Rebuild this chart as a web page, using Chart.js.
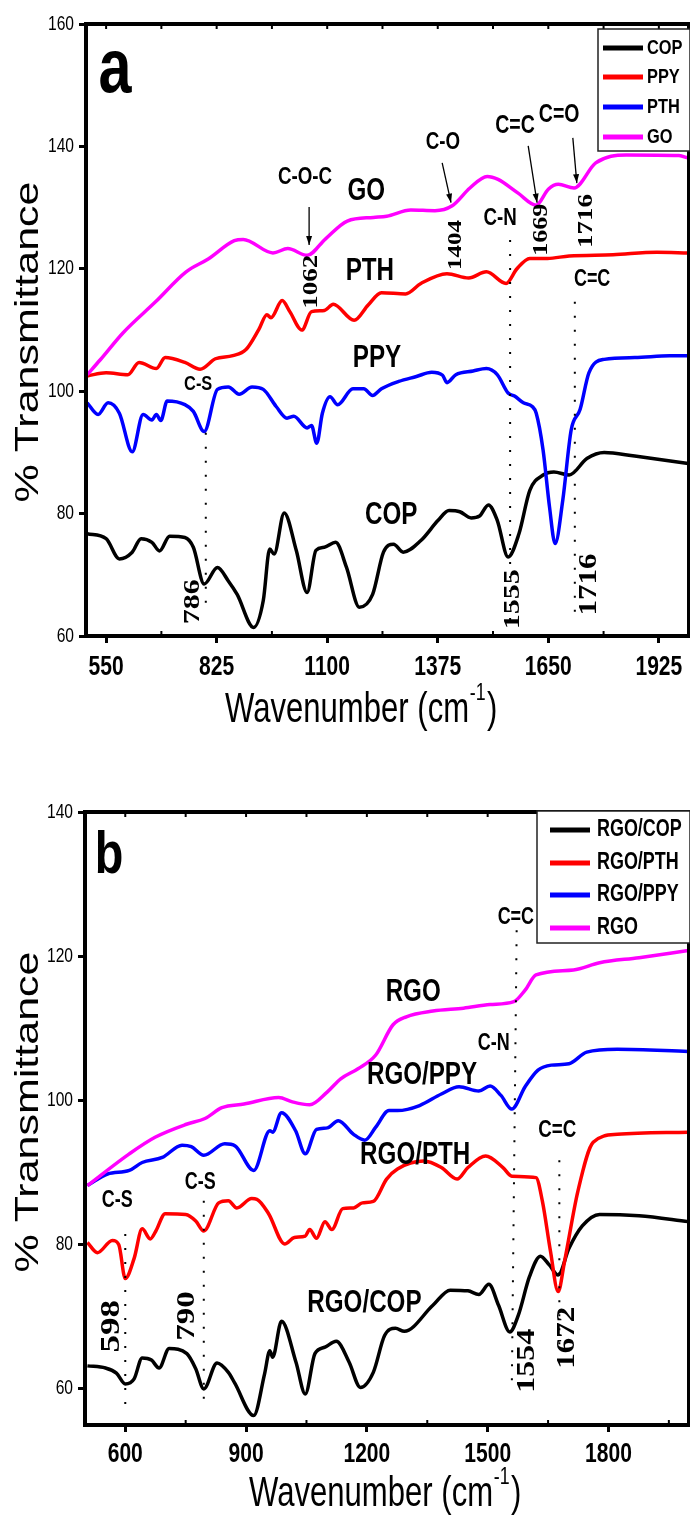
<!DOCTYPE html>
<html>
<head>
<meta charset="utf-8">
<script src="https://cdn.jsdelivr.net/npm/chart.js@4.4.0/dist/chart.umd.min.js"></script>
<style>
  body { margin: 0; background: #fff; width: 690px; height: 1515px; position: relative; overflow: hidden; }
  canvas { position: absolute; left: 0; }
  #chartA { top: 0; }
  #chartB { top: 760px; }
</style>
</head>
<body>
<canvas id="chartA" width="690" height="745"></canvas>
<canvas id="chartB" width="690" height="755"></canvas>
<script>
// ---- panel a data ----
const seriesA = ['COP', 'PPY', 'PTH', 'GO'];
const colorsA = ['#000000', '#ff0000', '#0000ff', '#ff00ff'];
const xTicksA = [550, 825, 1100, 1375, 1650, 1925];
const yTicksA = [60, 80, 100, 120, 140, 160];

const copWn = [503, 550, 583, 615, 637, 664, 683, 708, 746, 767, 794, 827, 854, 876, 917, 941, 957, 968, 993, 1023, 1050, 1072, 1093, 1121, 1148, 1180, 1213, 1240, 1265, 1289, 1333, 1376, 1403, 1430, 1458, 1479, 1501, 1523, 1550, 1577, 1604, 1637, 1664, 1702, 1746, 1789, 1865, 1998];
const copT  = [76.7, 75.9, 72.6, 73.7, 75.9, 75.3, 73.9, 76.3, 76.1, 74.5, 68.5, 71.2, 69.0, 66.8, 61.4, 65.8, 74.2, 73.4, 80.1, 74.0, 67.1, 74.0, 74.5, 75.3, 71.2, 64.7, 66.8, 73.7, 75.0, 73.7, 75.6, 78.9, 80.5, 80.3, 79.3, 79.6, 81.4, 78.9, 72.9, 76.7, 83.8, 86.3, 86.8, 86.3, 89.0, 90.0, 89.4, 88.2];

const ppyWn = [503, 550, 604, 632, 675, 697, 746, 784, 822, 865, 898, 930, 950, 960, 988, 1007, 1037, 1061, 1093, 1115, 1167, 1202, 1235, 1295, 1333, 1398, 1452, 1496, 1545, 1572, 1604, 1648, 1702, 1811, 1920, 1998];
const ppyT  = [102.5, 103.0, 102.7, 104.7, 103.7, 105.5, 104.7, 103.6, 105.3, 105.8, 106.8, 110.1, 112.5, 112.0, 114.8, 113.0, 110.0, 113.0, 113.2, 114.2, 111.6, 114.1, 116.1, 115.9, 117.6, 119.2, 118.5, 119.5, 117.6, 120.0, 121.7, 121.7, 122.1, 122.3, 122.7, 122.6];

const pthWn = [503, 530, 555, 583, 615, 642, 664, 675, 686, 702, 746, 767, 794, 827, 854, 881, 913, 941, 973, 1000, 1017, 1050, 1061, 1074, 1088, 1107, 1126, 1164, 1191, 1213, 1235, 1278, 1322, 1360, 1387, 1398, 1420, 1463, 1496, 1523, 1550, 1566, 1588, 1610, 1620, 1637, 1653, 1667, 1686, 1707, 1729, 1751, 1789, 1865, 1952, 1998];
const pthT  = [98.1, 96.2, 98.1, 96.4, 90.1, 96.2, 95.3, 96.2, 95.2, 98.4, 97.8, 96.7, 93.4, 100.3, 100.7, 99.5, 100.7, 100.3, 97.5, 95.6, 95.9, 94.0, 94.4, 91.5, 96.4, 99.1, 97.8, 100.4, 100.4, 99.3, 100.4, 101.6, 102.4, 103.1, 102.6, 101.4, 102.7, 103.3, 103.7, 102.7, 99.7, 99.2, 98.1, 97.5, 96.4, 90.4, 81.1, 75.1, 82.2, 93.7, 97.0, 103.0, 105.2, 105.5, 105.8, 105.8];

const goWn = [503, 535, 593, 673, 749, 804, 869, 891, 965, 1002, 1050, 1096, 1150, 1215, 1248, 1308, 1368, 1411, 1455, 1498, 1525, 1574, 1620, 1650, 1675, 1714, 1768, 1844, 1975, 1998];
const goT  = [102.7, 105.1, 109.6, 114.6, 119.5, 121.6, 124.6, 124.8, 122.6, 123.3, 122.2, 124.9, 127.8, 128.4, 128.6, 129.6, 129.5, 130.3, 133.2, 135.1, 134.6, 132.4, 130.4, 133.0, 133.8, 133.2, 137.3, 138.6, 138.5, 138.1];

// ---- panel b data ----
const seriesB = ['RGO/COP', 'RGO/PTH', 'RGO/PPY', 'RGO'];
const colorsB = ['#000000', '#ff0000', '#0000ff', '#ff00ff'];
const xTicksB = [600, 900, 1200, 1500, 1800];
const yTicksB = [60, 80, 100, 120, 140];

const rcopWn = [506, 551, 578, 600, 622, 642, 665, 684, 709, 753, 775, 795, 828, 856, 872, 919, 946, 959, 966, 988, 1024, 1047, 1071, 1096, 1124, 1156, 1184, 1216, 1244, 1271, 1293, 1364, 1407, 1451, 1478, 1503, 1527, 1555, 1576, 1604, 1631, 1653, 1675, 1702, 1735, 1778, 1876, 1998];
const rcopT  = [63.2, 62.9, 62.2, 60.7, 61.4, 64.3, 64.0, 62.9, 65.6, 64.9, 62.8, 60.0, 63.6, 62.3, 60.8, 56.3, 62.1, 65.3, 64.4, 69.4, 63.7, 59.3, 64.9, 65.8, 66.6, 63.7, 60.2, 62.3, 67.4, 68.4, 68.0, 71.6, 73.7, 73.6, 73.1, 74.5, 71.6, 67.9, 70.2, 75.6, 78.4, 77.2, 75.8, 79.5, 82.6, 84.2, 84.0, 83.2];

const rpthWn = [506, 531, 568, 584, 600, 622, 642, 662, 676, 699, 750, 775, 795, 832, 856, 877, 914, 927, 956, 996, 1020, 1047, 1058, 1075, 1096, 1113, 1140, 1167, 1189, 1216, 1249, 1276, 1342, 1385, 1424, 1451, 1495, 1538, 1560, 1620, 1636, 1656, 1675, 1691, 1724, 1762, 1822, 1998];
const rpthT  = [80.3, 78.9, 80.6, 80.0, 75.3, 78.1, 82.2, 80.8, 81.9, 84.3, 84.2, 83.3, 81.9, 85.8, 86.1, 85.1, 86.4, 86.3, 84.3, 80.1, 81.0, 81.2, 82.1, 80.9, 83.2, 82.1, 85.0, 85.1, 85.8, 86.0, 89.1, 90.5, 91.6, 90.7, 89.1, 90.7, 92.3, 90.7, 89.5, 89.3, 86.0, 79.1, 73.5, 77.7, 87.4, 94.2, 95.3, 95.6];

const rppyWn = [506, 556, 610, 642, 692, 741, 764, 795, 847, 873, 919, 959, 966, 988, 1023, 1047, 1075, 1102, 1129, 1167, 1195, 1222, 1255, 1276, 1331, 1385, 1429, 1478, 1506, 1533, 1560, 1593, 1625, 1658, 1702, 1746, 1822, 1998];
const rppyT  = [88.2, 89.8, 90.3, 91.4, 92.1, 93.8, 93.6, 92.4, 94.0, 93.7, 90.3, 95.8, 95.6, 98.3, 95.8, 92.6, 96.0, 96.2, 97.2, 95.3, 94.5, 96.3, 98.6, 98.6, 99.3, 100.9, 101.9, 101.3, 102.0, 100.7, 98.8, 101.9, 104.2, 104.9, 105.1, 106.7, 107.1, 106.8];

const rgoWn = [506, 610, 674, 752, 798, 840, 895, 981, 1015, 1058, 1102, 1135, 1178, 1222, 1265, 1298, 1364, 1440, 1506, 1565, 1593, 1620, 1713, 1778, 1876, 1998];
const rgoT  = [88.2, 92.6, 94.9, 96.7, 97.5, 99.0, 99.5, 100.4, 99.8, 99.4, 101.2, 103.0, 104.4, 106.3, 110.5, 111.6, 112.4, 112.8, 113.3, 113.7, 115.3, 117.4, 118.1, 119.1, 119.8, 120.8];

// ---- annotations (text, wavenumber, transmittance, font) ----
const notesA = [
  ['a', 572, 152.3, 'bold 76px'], ['C-O-C', 1045, 134.9, 'bold 24px'], ['GO', 1197, 132.7, 'bold 31px'],
  ['C-O', 1388, 140.7, 'bold 24px'], ['C=C', 1567, 143.3, 'bold 25px'], ['C=O', 1677, 145.1, 'bold 25px'],
  ['C-N', 1530, 128.3, 'bold 24px'], ['PTH', 1206, 119.5, 'bold 31px'], ['C=C', 1759, 118.2, 'bold 23px'],
  ['C-S', 779, 101.1, 'bold 21px'], ['PPY', 1224, 105.3, 'bold 31px'], ['COP', 1259, 79.7, 'bold 31px']
];
const peaksA = [['1062', 1062, 117.9, 27], ['1404', 1420, 123.9, 25], ['1669', 1634, 126.4, 26], ['1716', 1744, 127.8, 27],
  ['786', 766, 65.6, 30], ['1555', 1562, 66.0, 30], ['1716', 1754, 68.4, 31]];
const arrowsA = [[1055, 130.1, 1055, 123.9], [1386, 137.3, 1408, 130.8], [1600, 140.1, 1622, 130.8], [1711, 141.4, 1721, 134.0]];
const dotsA = [[1555, 124.7, 1555, 61.4], [1716, 114.6, 1716, 63.0], [798, 93.2, 798, 63.5]];

const notesB = [
  ['b', 560, 133.8, 'bold 60px'], ['C=C', 1570, 125.4, 'bold 23px'], ['RGO', 1315, 115.0, 'bold 31px'],
  ['C-N', 1515, 107.9, 'bold 23px'], ['RGO/PPY', 1337, 103.5, 'bold 31px'], ['C=C', 1673, 95.8, 'bold 24px'],
  ['RGO/PTH', 1320, 92.4, 'bold 31px'], ['C-S', 580, 86.1, 'bold 23px'], ['C-S', 786, 88.6, 'bold 23px'],
  ['RGO/COP', 1194, 71.8, 'bold 31px']
];
const peaksB = [['598', 568, 68.7, 35], ['790', 753, 70.1, 33], ['1554', 1599, 63.9, 32], ['1672', 1700, 67.1, 31]];
const dotsB = [[600, 81.5, 600, 56.7], [795, 86.1, 795, 57.6], [1572, 123.6, 1560, 60.5], [1678, 91.7, 1678, 65.0]];

const SQ = 0.78; // the whole figure is squeezed sideways
const SANS = "'Liberation Sans', Arial, sans-serif";
const SERIF = "'Liberation Serif', 'Times New Roman', serif";

function pts(wn, t) { return wn.map((w, i) => ({ x: w, y: t[i] })); }

function txt(ctx, s, x, y, font, align, rot) {
  ctx.save();
  ctx.translate(x, y);
  ctx.scale(SQ, 1);
  if (rot) ctx.rotate(-Math.PI / 2);
  ctx.font = font;
  ctx.textAlign = align || 'center';
  ctx.textBaseline = 'middle';
  ctx.fillStyle = '#000';
  ctx.fillText(s, 0, 0);
  ctx.restore();
}

function deco(o) {
  return {
    id: 'deco',
    afterDraw(chart) {
      const ctx = chart.ctx, a = chart.chartArea, xs = chart.scales.x, ys = chart.scales.y;
      const X = v => xs.getPixelForValue(v), Y = v => ys.getPixelForValue(v);
      ctx.save();

      // dotted guides
      ctx.strokeStyle = '#000';
      ctx.lineWidth = 2;
      ctx.setLineDash([2, 12]);
      o.dots.forEach(d => {
        ctx.beginPath(); ctx.moveTo(X(d[0]), Y(d[1])); ctx.lineTo(X(d[2]), Y(d[3])); ctx.stroke();
      });
      ctx.setLineDash([]);

      // arrows
      ctx.lineWidth = 1.3;
      (o.arrows || []).forEach(d => {
        const x1 = X(d[0]), y1 = Y(d[1]), x2 = X(d[2]), y2 = Y(d[3]);
        const ang = Math.atan2(y2 - y1, x2 - x1);
        ctx.beginPath(); ctx.moveTo(x1, y1); ctx.lineTo(x2, y2); ctx.stroke();
        ctx.beginPath();
        ctx.moveTo(x2, y2);
        ctx.lineTo(x2 - 9 * Math.cos(ang) + 3 * Math.sin(ang), y2 - 9 * Math.sin(ang) - 3 * Math.cos(ang));
        ctx.lineTo(x2 - 9 * Math.cos(ang) - 3 * Math.sin(ang), y2 - 9 * Math.sin(ang) + 3 * Math.cos(ang));
        ctx.closePath(); ctx.fillStyle = '#000'; ctx.fill();
      });

      // frame
      ctx.lineWidth = 4;
      ctx.strokeRect(a.left, a.top, a.right - a.left, a.bottom - a.top);

      // minor ticks, pointing in
      ctx.lineWidth = 2;
      o.minor.forEach(v => {
        const px = X(v);
        ctx.beginPath(); ctx.moveTo(px, a.bottom); ctx.lineTo(px, a.bottom - 5); ctx.stroke();
        ctx.beginPath(); ctx.moveTo(px, a.top); ctx.lineTo(px, a.top + 5); ctx.stroke();
      });
      xs.ticks.forEach(t => {
        const px = X(t.value);
        ctx.beginPath(); ctx.moveTo(px, a.top); ctx.lineTo(px, a.top + 5); ctx.stroke();
      });

      // tick labels
      xs.ticks.forEach(t => txt(ctx, String(t.value), X(t.value), o.xLabY, 'bold 27px ' + SANS));
      ys.ticks.forEach(t => txt(ctx, String(t.value), a.left - 12, Y(t.value), '20px ' + SANS, 'right'));

      // axis titles
      ctx.save();
      ctx.translate(o.titleX, o.titleY);
      ctx.scale(0.74, 1);
      ctx.fillStyle = '#000';
      ctx.textBaseline = 'alphabetic';
      ctx.textAlign = 'left';
      ctx.font = '42px ' + SANS;
      const w1 = ctx.measureText('Wavenumber (cm').width;
      ctx.fillText('Wavenumber (cm', 0, 0);
      ctx.font = '24px ' + SANS;
      const w2 = ctx.measureText('-1').width;
      ctx.fillText('-1', w1 + 1, -22);
      ctx.font = '42px ' + SANS;
      ctx.fillText(')', w1 + w2 + 3, 0);
      ctx.restore();
      txt(ctx, '% Transmittance', 29, o.yTitleY, '43px ' + SANS, 'center', true);

      // legend
      const L = o.legend;
      ctx.fillStyle = '#fff';
      ctx.fillRect(L.x, L.y, L.w, L.h);
      ctx.strokeStyle = '#222';
      ctx.lineWidth = 1.5;
      ctx.strokeRect(L.x, L.y, L.w, L.h);
      chart.data.datasets.forEach((ds, i) => {
        const ry = L.rows[i];
        ctx.strokeStyle = ds.borderColor;
        ctx.lineWidth = 5;
        ctx.beginPath(); ctx.moveTo(L.l1, ry); ctx.lineTo(L.l2, ry); ctx.stroke();
        txt(ctx, ds.label, L.tx, ry, L.font, 'left');
      });

      // curve labels
      o.notes.forEach(n => txt(ctx, n[0], X(n[1]), Y(n[2]), n[3] + ' ' + SANS));
      o.peaks.forEach(n => txt(ctx, n[0], X(n[1]), Y(n[2]), 'bold ' + n[3] + 'px ' + SERIF, 'center', true));

      ctx.restore();
    }
  };
}

function build(id, names, colors, series, box, xt, yt, ymin, ymax, o) {
  const el = document.getElementById(id);
  const H = el.height;
  return new Chart(el, {
    type: 'line',
    data: {
      datasets: series.map((s, i) => ({
        label: names[i],
        data: pts(s[0], s[1]),
        borderColor: colors[i],
        borderWidth: 3.5,
        pointRadius: 0,
        cubicInterpolationMode: 'monotone',
        fill: false,
        order: 3 - i
      }))
    },
    options: {
      responsive: false,
      animation: false,
      devicePixelRatio: 1,
      layout: { padding: { top: box.top, right: 690 - box.right, left: 0, bottom: 0 } },
      plugins: { legend: { display: false }, tooltip: { enabled: false } },
      scales: {
        x: {
          type: 'linear', min: 500, max: 2000,
          afterBuildTicks: s => { s.ticks = xt.map(v => ({ value: v })); },
          afterFit: s => { s.height = H - box.bottom; },
          ticks: { display: false },
          grid: { drawOnChartArea: false, drawTicks: true, tickLength: 7, tickWidth: 3, color: '#000' },
          border: { display: false }
        },
        y: {
          min: ymin, max: ymax,
          afterBuildTicks: s => { s.ticks = yt.map(v => ({ value: v })); },
          afterFit: s => { s.width = box.left; },
          ticks: { display: false },
          grid: { drawOnChartArea: false, drawTicks: true, tickLength: 7, tickWidth: 3, color: '#000' },
          border: { display: false }
        }
      }
    },
    plugins: [deco(o)]
  });
}

build('chartA', seriesA, colorsA,
  [[copWn, copT], [ppyWn, ppyT], [pthWn, pthT], [goWn, goT]],
  { left: 86, top: 24, right: 689, bottom: 636 }, xTicksA, yTicksA, 60, 160,
  {
    dots: dotsA, arrows: arrowsA, notes: notesA, peaks: peaksA,
    minor: [687.5, 962.5, 1237.5, 1512.5, 1787.5],
    xLabY: 668, titleX: 225, titleY: 722, yTitleY: 342,
    legend: { x: 598, y: 29, w: 92, h: 122, rows: [48, 77, 107, 137], l1: 603, l2: 643, tx: 647, font: 'bold 21px ' + SANS }
  });

build('chartB', seriesB, colorsB,
  [[rcopWn, rcopT], [rpthWn, rpthT], [rppyWn, rppyT], [rgoWn, rgoT]],
  { left: 85, top: 52, right: 689, bottom: 665 }, xTicksB, yTicksB, 55, 140,
  {
    dots: dotsB, notes: notesB, peaks: peaksB,
    minor: [750, 1050, 1350, 1650, 1950],
    xLabY: 695, titleX: 249, titleY: 746, yTitleY: 352,
    legend: { x: 537, y: 51, w: 153, h: 132, rows: [70, 103, 135, 168], l1: 550, l2: 590, tx: 597, font: 'bold 23px ' + SANS }
  });
</script>
</body>
</html>
